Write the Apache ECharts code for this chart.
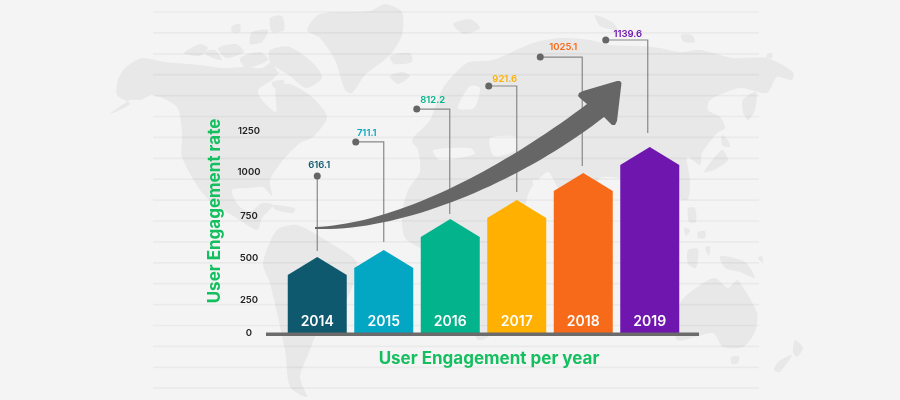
<!DOCTYPE html>
<html>
<head>
<meta charset="utf-8">
<style>
    html, body { margin: 0; padding: 0; background: #f4f4f4; }
    #chart { width: 900px; height: 400px; }
</style>
<script src="https://cdn.jsdelivr.net/npm/echarts@6/dist/echarts.min.js"></script>
</head>
<body>
<div id="chart"></div>
<script>
// values printed above each bar
let categories = ['2014', '2015', '2016', '2017', '2018', '2019'];
let engagementValues = ['616.1', '711.1', '812.2', '921.6', '1025.1', '1139.6'];
// bar apex as read against the left axis
let barTops = [470, 514, 705, 823, 990, 1151];
let tickLabels = ['0', '250', '500', '750', '1000', '1250'];
// the printed ticks are not evenly spaced in the picture
let tickPositions = [0, 204, 464, 724, 996, 1250];

let colors = ['#0f596e', '#03a7c4', '#03b38b', '#ffb000', '#f76a19', '#6e16ae'];
let font = 'Inter';
let green = '#14bf5f';

// leader line layout, in pixels relative to the top of each bar
let leaderRise = [81, 108, 110, 114, 116, 107];
let leaderRun = [0, 28, 33, 28, 42, 42];
let leaderShift = [0, 0, -0.5, 0, -1, -2];
let leaderGap = [6, 8, 5, 8, 7, 14];
let labelShift = [[2, -11], [11, -9], [16, -9], [16, -7], [23, -10], [22, -6]];

// backdrop world map, page pixels
let land = [
    // north america
    [[110,114],[130,104],[117,95],[118,80],[125,68],[142,58],[165,62],[200,65],[222,68],[245,67],[262,68],[272,62],[278,72],[284,67],[272,80],[258,90],[262,100],[276,112],[276,88],[290,84],[312,97],[327,117],[313,137],[300,143],[283,160],[270,180],[272,196],[263,187],[250,188],[232,190],[238,205],[250,212],[262,203],[273,205],[262,218],[257,230],[235,217],[215,205],[200,190],[182,157],[182,133],[177,107],[153,95],[140,100],[130,100]],
    // south america
    [[277,230],[297,225],[330,243],[357,263],[345,303],[325,315],[310,350],[300,377],[307,397],[290,387],[285,350],[270,283],[263,263]],
    // greenland
    [[307,30],[320,14],[370,11],[385,4],[402,12],[402,35],[390,55],[365,75],[352,93],[345,90],[335,60],[320,38]],
    // arctic islands
    [[270,50],[290,47],[315,65],[322,78],[306,88],[290,76],[270,62]],
    [[218,48],[236,44],[244,52],[226,58]],
    [[205,52],[215,50],[222,60],[208,56]],
    [[240,58],[260,52],[268,60],[246,68]],
    [[270,18],[282,16],[284,30],[272,32]],
    [[252,32],[268,30],[262,42],[250,44]],
    [[232,26],[240,24],[240,32],[232,32]],
    [[184,53],[200,44],[208,48],[200,56]],
    [[272,82],[284,80],[282,88],[274,88]],
    // caribbean, iceland, svalbard
    [[272,205],[295,208],[293,213],[276,210]],
    [[390,56],[410,53],[412,62],[394,64]],
    [[390,76],[402,72],[410,76],[398,84]],
    [[453,24],[470,19],[480,28],[464,34]],
    [[595,15],[612,22],[618,30],[600,26]],
    // eurasia and africa
    [[443,88],[467,63],[493,60],[533,43],[560,38],[590,40],[610,45],[640,46],[660,48],[680,52],[700,50],[733,58],[767,58],[793,72],[792,80],[777,77],[767,93],[740,88],[710,100],[708,110],[720,117],[725,128],[717,133],[702,153],[700,165],[687,157],[690,180],[687,200],[650,188],[620,178],[600,178],[590,200],[560,190],[548,172],[530,190],[525,205],[505,240],[495,290],[490,335],[478,340],[465,310],[448,258],[425,250],[405,238],[402,215],[408,190],[420,172],[418,150],[412,140],[430,120]],
    // asia east coast islands
    [[743,100],[756,92],[755,110],[748,120],[743,112]],
    [[722,135],[728,140],[730,147],[722,145]],
    [[704,172],[722,150],[728,160],[714,170]],
    [[681,35],[692,35],[695,42],[684,42]],
    [[767,54],[772,53],[772,58],[767,58]],
    // indonesia
    [[688,208],[695,208],[696,222],[689,222]],
    [[698,232],[705,231],[705,238],[698,238]],
    [[684,228],[690,230],[686,236]],
    [[688,250],[698,249],[696,268],[688,264]],
    [[705,248],[710,246],[709,256]],
    [[720,256],[745,262],[755,278],[740,272],[725,268]],
    [[758,258],[762,256],[763,263]],
    // australia, tasmania, new zealand
    [[680,303],[700,285],[715,278],[728,288],[737,280],[743,287],[757,313],[755,332],[743,347],[723,347],[713,333],[677,340]],
    [[731,357],[739,356],[738,363],[732,364]],
    [[795,340],[803,348],[797,357],[793,352]],
    [[792,355],[780,372],[774,370],[778,362]]
];
// seas cut out of the land shapes
let seas = [
    [[458,108],[470,86],[480,88],[474,108]],
    [[490,138],[517,137],[516,150],[494,156]],
    [[533,180],[553,184],[550,193],[536,190]],
    [[433,150],[470,148],[475,154],[440,160]]
];

function sampleCurve(p0, p1, p2, p3) {
    let points = [];
    for (let k = 0; k <= 40; k++) {
        let t = k / 40, s = 1 - t;
        points.push([
            s * s * s * p0[0] + 3 * s * s * t * p1[0] + 3 * s * t * t * p2[0] + t * t * t * p3[0],
            s * s * s * p0[1] + 3 * s * s * t * p1[1] + 3 * s * t * t * p2[1] + t * t * t * p3[1]
        ]);
    }
    return points;
}

let chartDom = document.getElementById('chart');
let chart = echarts.init(chartDom);

let backdrop = [];
land.forEach(points => {
    backdrop.push({
        type: 'polygon', z: -3, silent: true,
        shape: { points: points, smooth: 0.25 },
        style: { fill: '#e8e8e8' }
    });
});
seas.forEach(points => {
    backdrop.push({
        type: 'polygon', z: -2, silent: true,
        shape: { points: points, smooth: 0.25 },
        style: { fill: '#f4f4f4' }
    });
});
for (let i = 0; i < 19; i++) {
    backdrop.push({
        type: 'line', z: -1, silent: true,
        shape: { x1: 153, y1: 12 + i * 20.9, x2: 759, y2: 12 + i * 20.9 },
        style: { stroke: 'rgba(0,0,0,0.04)', lineWidth: 1.7 }
    });
}

// base line runs past the plot on both sides
backdrop.push({
    type: 'rect', z: 6, silent: true,
    shape: { x: 266, y: 332.5, width: 433, height: 3.5 },
    style: { fill: '#6b6b6b' }
});

// trend arrow: upper curve, rounded head, lower curve
let arrowPoints = sampleCurve([315, 227], [395, 224], [500, 170], [587, 104])
    .concat([[581, 99], [578, 96], [579, 93], [583, 91], [617, 81], [620, 81], [621.5, 83], [617, 121], [615, 125], [612, 125], [610, 123], [604, 117]])
    .concat(sampleCurve([604, 117], [530, 175], [410, 232], [315, 229]));
backdrop.push({
    type: 'polygon', z: 5, silent: true,
    shape: { points: arrowPoints },
    style: { fill: '#666666' }
});

function renderHouse(params, api) {
    let i = api.value(0);
    let apex = api.coord([i, api.value(1)]);
    let base = api.coord([i, 0]);
    let half = 29.5;
    return {
        type: 'group',
        children: [
            {
                type: 'polygon',
                shape: {
                    points: [
                        [apex[0], apex[1]],
                        [apex[0] + half, apex[1] + 18],
                        [apex[0] + half, base[1]],
                        [apex[0] - half, base[1]],
                        [apex[0] - half, apex[1] + 18]
                    ]
                },
                style: { fill: colors[i] }
            },
            {
                type: 'text',
                style: {
                    x: apex[0], y: base[1] - 11,
                    text: categories[i],
                    fill: '#ffffff',
                    font: '600 14px ' + font,
                    align: 'center', verticalAlign: 'middle'
                }
            }
        ]
    };
}

function renderLeader(params, api) {
    let i = api.value(0);
    let apex = api.coord([i, api.value(1)]);
    let lineX = apex[0] + leaderShift[i];
    let dotX = lineX - leaderRun[i];
    let dotY = apex[1] - leaderRise[i];
    return {
        type: 'group',
        children: [
            {
                type: 'polyline',
                shape: { points: [[dotX, dotY], [lineX, dotY], [lineX, apex[1] - leaderGap[i]]] },
                style: { fill: 'none', stroke: '#888888', lineWidth: 1.2 }
            },
            {
                type: 'circle',
                shape: { cx: dotX, cy: dotY, r: 3.5 },
                style: { fill: '#666666' }
            },
            {
                type: 'text',
                style: {
                    x: dotX + labelShift[i][0], y: dotY + labelShift[i][1],
                    text: engagementValues[i],
                    fill: colors[i],
                    font: '600 9.5px ' + font,
                    align: 'center', verticalAlign: 'middle'
                }
            }
        ]
    };
}

let seriesData = barTops.map((top, i) => [i, top]);

let option = {
    backgroundColor: '#f4f4f4',
    animation: false,
    grid: { left: 284, width: 399, top: 89, height: 244 },
    xAxis: {
        type: 'category',
        data: categories,
        name: 'User Engagement per year',
        nameLocation: 'middle',
        nameGap: 17,
        nameTextStyle: {
            color: green, fontFamily: font, fontWeight: 700, fontSize: 17,
            padding: [0, 0, 0, 11]
        },
        axisLine: { show: false },
        axisTick: { show: false },
        axisLabel: { show: false }
    },
    yAxis: {
        type: 'value',
        min: 0,
        max: 1510,
        name: 'User Engagement rate',
        nameLocation: 'middle',
        nameGap: 61,
        nameRotate: 90,
        nameTextStyle: { color: green, fontFamily: font, fontWeight: 700, fontSize: 17 },
        splitLine: { show: false },
        axisLine: { show: false },
        axisTick: { show: false },
        axisLabel: {
            customValues: tickPositions,
            formatter: value => tickLabels[tickPositions.indexOf(value)],
            color: '#222222',
            fontFamily: font,
            fontWeight: 600,
            fontSize: 9.5,
            align: 'center',
            margin: 35
        }
    },
    graphic: { elements: backdrop },
    series: [
        { type: 'custom', z: 3, renderItem: renderLeader, data: seriesData, silent: true },
        { type: 'custom', z: 4, renderItem: renderHouse, data: seriesData, silent: true }
    ]
};

option && chart.setOption(option);
</script>
</body>
</html>
